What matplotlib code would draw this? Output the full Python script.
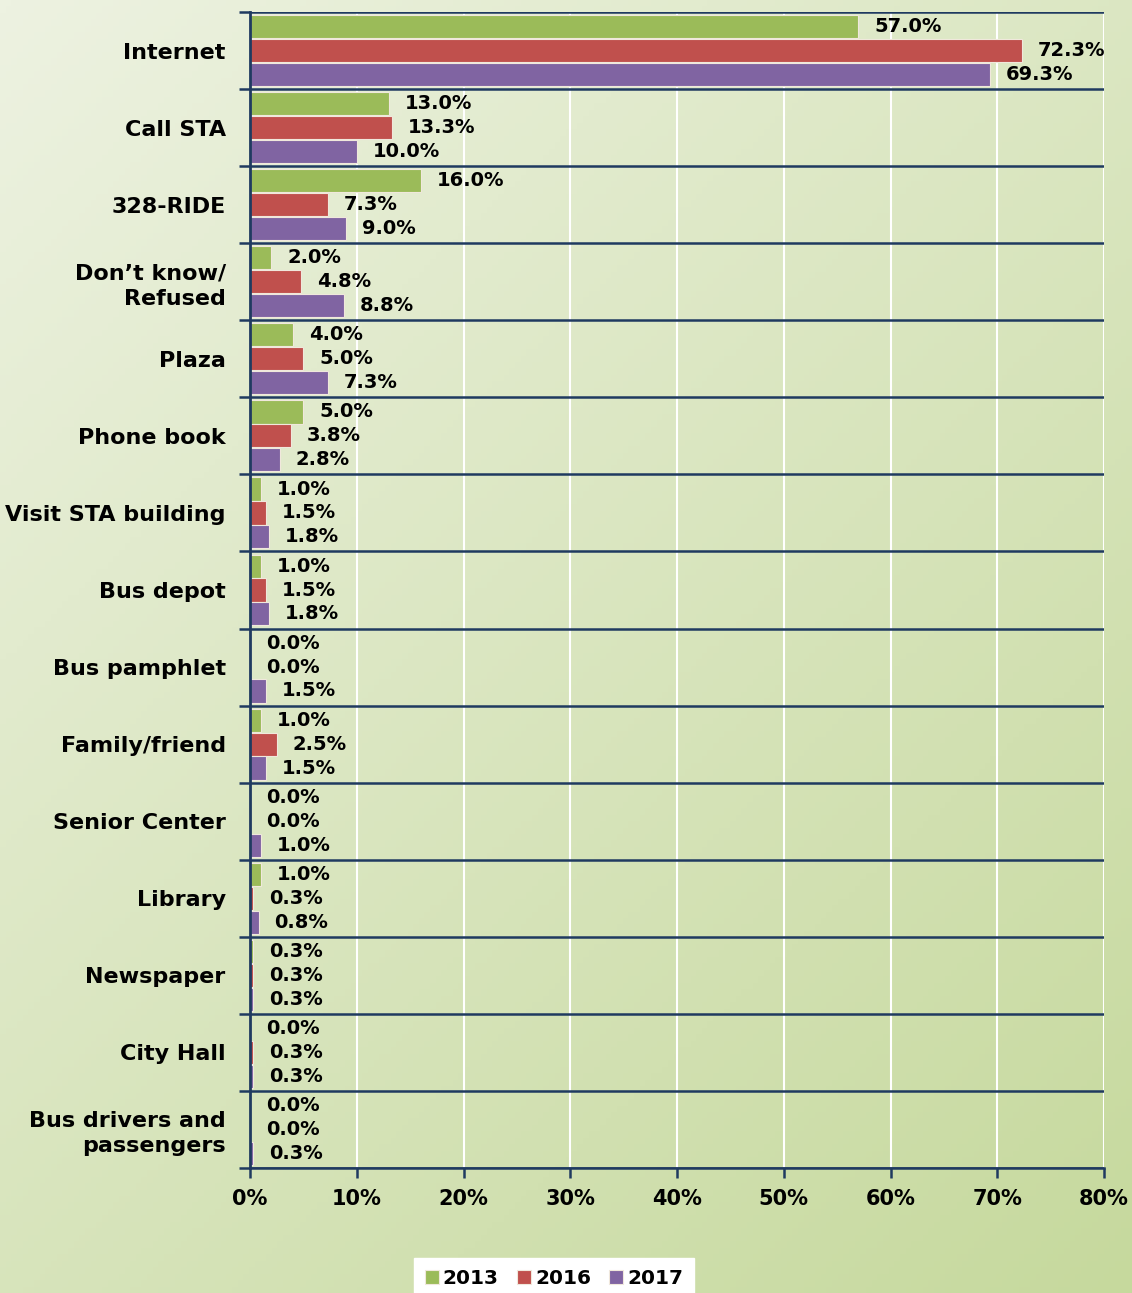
import numpy as np
import matplotlib
matplotlib.use("Agg")
import matplotlib.pyplot as plt
from matplotlib.colors import LinearSegmentedColormap

categories = ["Internet", "Call STA", "328-RIDE", "Don\u2019t know/\nRefused", "Plaza",
              "Phone book", "Visit STA building", "Bus depot", "Bus pamphlet",
              "Family/friend", "Senior Center", "Library", "Newspaper", "City Hall",
              "Bus drivers and\npassengers"]
series_names = ["2013", "2016", "2017"]
v2013 = [57.0, 13.0, 16.0, 2.0, 4.0, 5.0, 1.0, 1.0, 0.0, 1.0, 0.0, 1.0, 0.3, 0.0, 0.0]
v2016 = [72.3, 13.3, 7.3, 4.8, 5.0, 3.8, 1.5, 1.5, 0.0, 2.5, 0.0, 0.3, 0.3, 0.3, 0.0]
v2017 = [69.3, 10.0, 9.0, 8.8, 7.3, 2.8, 1.8, 1.8, 1.5, 1.5, 1.0, 0.8, 0.3, 0.3, 0.3]
xticks = [0, 10, 20, 30, 40, 50, 60, 70, 80]
colors = ["#9bbb59", "#c0504d", "#8064a2"]
navy = "#1f3a60"

plt.rcParams['font.family'] = ['DejaVu Sans']
plt.rcParams['font.weight'] = 'bold'

W, H = 1132, 1293
fig = plt.figure(figsize=(W / 100, H / 100), dpi=100)

# gradient background
bg = fig.add_axes([0, 0, 1, 1], zorder=-10)
cmap = LinearSegmentedColormap.from_list("g", ["#edf2e1", "#c6d99d"])
yy, xx = np.mgrid[0:1:200j, 0:1:200j]
grad = (xx * 0.45 + yy * 0.55)
bg.imshow(grad, cmap=cmap, extent=[0, 1, 0, 1], origin="upper", aspect="auto")
bg.axis("off")

ax = fig.add_axes([250 / W, 1 - 1168 / H, (1104 - 250) / W, (1168 - 12) / H])
ax.patch.set_alpha(0)

n = len(categories)
pos = np.arange(n)
bh = 0.31
offsets = [-bh, 0, bh]
for vals, off, c, name in zip([v2013, v2016, v2017], offsets, colors, series_names):
    ax.barh(pos + off, vals, height=bh * 0.97, color=c, edgecolor="#f0e8dc",
            linewidth=0.8, zorder=3, label=name)
    for p, v in zip(pos, vals):
        ax.annotate(f"{v:.1f}%", (v, p + off), xytext=(11.5, 0), textcoords="offset points",
                    va="center", ha="left", fontsize=14, fontweight="bold", color="black",
                    zorder=5)

ax.set_xlim(0, 80)
ax.set_ylim(n - 0.5, -0.5)
for b in np.arange(-0.5, n, 1.0):
    ax.axhline(b, color=navy, lw=1.8, zorder=4)
for t in xticks[1:]:
    ax.axvline(t, color="white", lw=1.5, zorder=1)

ax.set_yticks(pos)
ax.set_yticklabels(categories, fontsize=16, fontweight="bold", linespacing=1.3)
ax.set_yticks(np.arange(-0.5, n, 1.0), minor=True)
ax.tick_params(axis="y", which="major", length=0, pad=17.5)
ax.tick_params(axis="y", which="minor", length=8, width=1.8, color=navy, direction="out")
ax.set_xticks(xticks)
ax.set_xticklabels([f"{t}%" for t in xticks], fontsize=15, fontweight="bold")
ax.tick_params(axis="x", length=7, width=1.8, color=navy, pad=8)

for s in ["top", "right"]:
    ax.spines[s].set_visible(False)
ax.spines["left"].set_color(navy)
ax.spines["left"].set_linewidth(2)
ax.spines["bottom"].set_color(navy)
ax.spines["bottom"].set_linewidth(1.8)
ax.spines["left"].set_zorder(6)

leg = fig.legend(loc="lower center", bbox_to_anchor=(554 / W, -6 / H), ncol=3,
                 frameon=True, fancybox=False, fontsize=14.5, handlelength=0.7,
                 handleheight=0.7, handletextpad=0.2, columnspacing=0.9,
                 borderpad=0.55, borderaxespad=0)
leg.get_frame().set_facecolor("white")
leg.get_frame().set_edgecolor("white")
leg.get_frame().set_alpha(1)
for t in leg.get_texts():
    t.set_fontweight("bold")

fig.savefig("out.png", dpi=100)
